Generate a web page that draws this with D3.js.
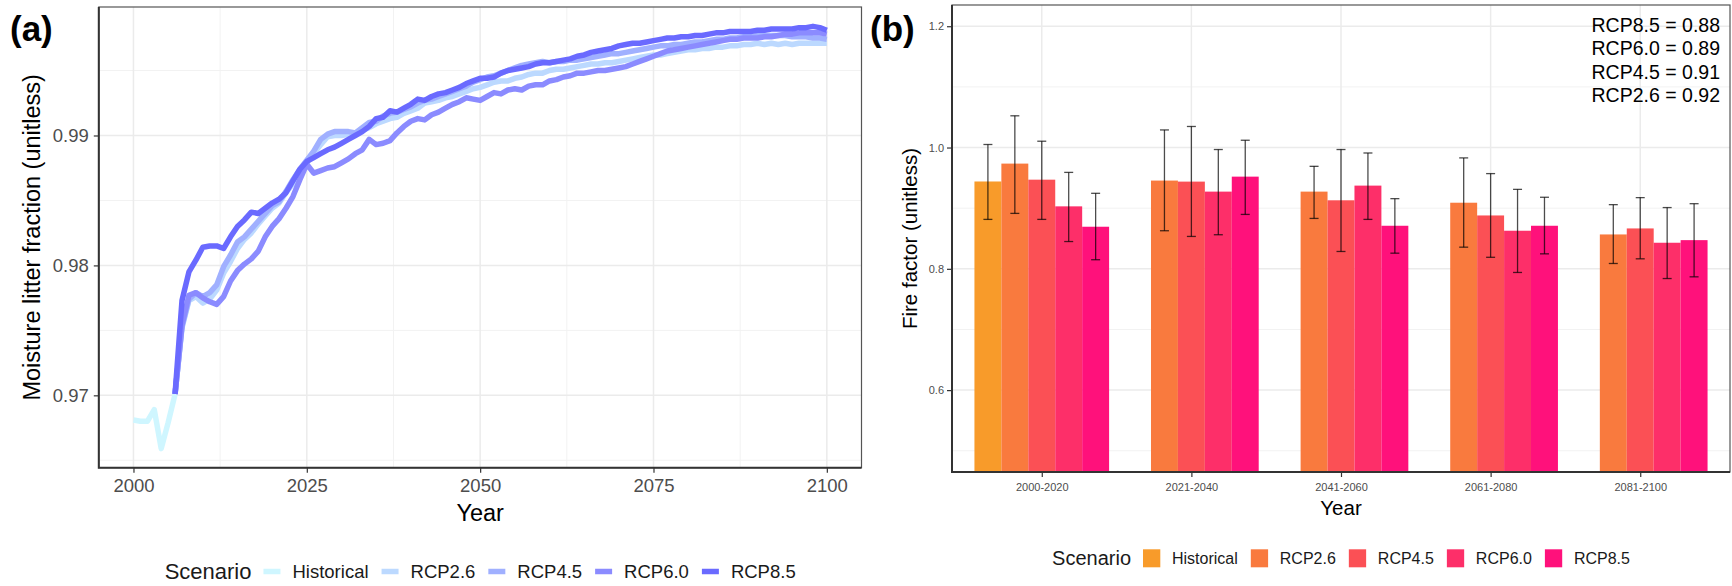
<!DOCTYPE html>
<html>
<head>
<meta charset="utf-8">
<script src="https://cdn.jsdelivr.net/npm/d3@7"></script>
<style>
  body { margin: 0; background: #fff; }
  svg { display: block; font-family: "Liberation Sans", Arial, sans-serif; }
</style>
</head>
<body>
<svg id="chart" width="1732" height="586"></svg>
<script>
// ---- data ----
const scenarios = ["Historical", "RCP2.6", "RCP4.5", "RCP6.0", "RCP8.5"];
const lineColors = ["#cff6ff", "#bcd9ff", "#a0b0ff", "#8b8bff", "#6a6aff"];
const barColors = ["#f89b2a", "#f97a3e", "#fb5055", "#fd2f69", "#ff117b"];

// panel (a): moisture litter fraction
const histYears = [2000, 2001, 2002, 2003, 2004, 2005, 2006];
const histLitter = [0.9681, 0.9680, 0.9680, 0.9689, 0.9659, 0.9679, 0.9701];
const futureYears = d3.range(2006, 2101);
const rcp26Litter = [
  .9701,.9752,.9773,.9776,.9771,.9774,.9781,.9794,.9803,.9813,
  .9820,.9825,.9832,.9838,.9844,.9848,.9856,.9863,.9871,.9879,
  .9886,.9893,.9899,.9900,.9900,.9901,.9901,.9904,.9906,.9909,
  .9911,.9913,.9914,.9917,.9919,.9921,.9925,.9926,.9927,.9929,
  .9930,.9932,.9934,.9936,.9937,.9939,.9941,.9942,.9942,.9944,
  .9945,.9947,.9948,.9948,.9950,.9951,.9951,.9952,.9953,.9954,
  .9955,.9955,.9956,.9956,.9957,.9958,.9959,.9960,.9961,.9962,
  .9962,.9963,.9964,.9965,.9966,.9966,.9967,.9967,.9968,.9968,
  .9969,.9969,.9970,.9970,.9971,.9970,.9971,.9970,.9971,.9970,
  .9971,.9971,.9971,.9971,.9971];
const rcp45Litter = [
  .9701,.9753,.9774,.9779,.9776,.9779,.9785,.9799,.9808,.9818,
  .9822,.9828,.9834,.9840,.9846,.9849,.9857,.9866,.9874,.9881,
  .9888,.9897,.9901,.9903,.9903,.9903,.9902,.9906,.9910,.9911,
  .9915,.9917,.9918,.9920,.9922,.9925,.9927,.9928,.9930,.9932,
  .9934,.9936,.9938,.9941,.9943,.9945,.9946,.9948,.9950,.9952,
  .9954,.9955,.9956,.9957,.9956,.9957,.9957,.9958,.9958,.9959,
  .9960,.9961,.9962,.9963,.9963,.9964,.9965,.9966,.9967,.9968,
  .9969,.9969,.9970,.9970,.9971,.9972,.9972,.9973,.9974,.9974,
  .9975,.9975,.9976,.9976,.9977,.9977,.9977,.9977,.9977,.9976,
  .9976,.9976,.9975,.9975,.9974];
const rcp60Litter = [
  .9701,.9754,.9777,.9779,.9775,.9772,.9770,.9776,.9788,.9796,
  .9801,.9805,.9811,.9822,.9830,.9836,.9844,.9853,.9866,.9878,
  .9871,.9873,.9875,.9876,.9879,.9882,.9886,.9889,.9897,.9893,
  .9894,.9896,.9902,.9907,.9911,.9913,.9912,.9916,.9918,.9921,
  .9924,.9926,.9929,.9928,.9927,.9930,.9933,.9932,.9935,.9936,
  .9935,.9938,.9939,.9939,.9942,.9943,.9945,.9946,.9948,.9948,
  .9949,.9950,.9950,.9951,.9952,.9953,.9955,.9957,.9959,.9961,
  .9963,.9965,.9966,.9967,.9968,.9969,.9970,.9971,.9972,.9973,
  .9974,.9974,.9975,.9975,.9975,.9976,.9976,.9977,.9978,.9978,
  .9979,.9979,.9979,.9979,.9978];
const rcp85Litter = [
  .9701,.9773,.9795,.9804,.9814,.9815,.9815,.9813,.9822,.9830,
  .9835,.9841,.9840,.9844,.9848,.9851,.9856,.9865,.9874,.9880,
  .9883,.9886,.9889,.9891,.9894,.9897,.9900,.9903,.9907,.9913,
  .9914,.9919,.9918,.9921,.9924,.9928,.9927,.9930,.9932,.9933,
  .9935,.9937,.9940,.9942,.9944,.9944,.9945,.9948,.9950,.9951,
  .9952,.9953,.9955,.9956,.9956,.9957,.9958,.9959,.9961,.9962,
  .9964,.9965,.9966,.9967,.9969,.9970,.9971,.9971,.9972,.9973,
  .9974,.9975,.9975,.9976,.9976,.9977,.9977,.9978,.9979,.9979,
  .9980,.9980,.9980,.9980,.9981,.9981,.9982,.9982,.9982,.9982,
  .9983,.9983,.9984,.9983,.9981];

// panel (b): fire factor by period
const periods = ["2000-2020", "2021-2040", "2041-2060", "2061-2080", "2081-2100"];
const histFire = [0.944];
const histFireLo = [0.8815];
const histFireHi = [1.005];
const rcp26Fire = [0.9735, 0.9455, 0.9273, 0.909, 0.8567];
const rcp26FireLo = [0.8914, 0.8628, 0.8831, 0.8357, 0.8088];
const rcp26FireHi = [1.0523, 1.029, 0.969, 0.9829, 0.9058];
const rcp45Fire = [0.947, 0.9438, 0.913, 0.888, 0.8666];
const rcp45FireLo = [0.8815, 0.8534, 0.8286, 0.819, 0.8165];
const rcp45FireHi = [1.0104, 1.0347, 0.9967, 0.957, 0.9174];
const rcp60Fire = [0.903, 0.9273, 0.9372, 0.8628, 0.843];
const rcp60FireLo = [0.845, 0.8562, 0.8815, 0.794, 0.784];
const rcp60FireHi = [0.959, 0.9967, 0.991, 0.931, 0.901];
const rcp85Fire = [0.8694, 0.952, 0.871, 0.871, 0.8473];
const rcp85FireLo = [0.815, 0.8897, 0.8258, 0.8247, 0.7868];
const rcp85FireHi = [0.9245, 1.012, 0.9157, 0.918, 0.9074];
const fireNotes = ["RCP8.5 = 0.88", "RCP6.0 = 0.89", "RCP4.5 = 0.91", "RCP2.6 = 0.92"];

// ---- drawing ----
const svg = d3.select("#chart");
svg.append("rect").attr("width", 1732).attr("height", 586).attr("fill", "#fff");

function drawGrid(g, box, xs, ys, major, minor)
{
    g.append("g").selectAll("line").data(minor.x).join("line")
        .attr("x1", d => xs(d)).attr("x2", d => xs(d))
        .attr("y1", box.top).attr("y2", box.bottom)
        .attr("stroke", "#f2f2f2").attr("stroke-width", 1);
    g.append("g").selectAll("line").data(minor.y).join("line")
        .attr("y1", d => ys(d)).attr("y2", d => ys(d))
        .attr("x1", box.left).attr("x2", box.right)
        .attr("stroke", "#f2f2f2").attr("stroke-width", 1);
    g.append("g").selectAll("line").data(major.x).join("line")
        .attr("x1", d => xs(d)).attr("x2", d => xs(d))
        .attr("y1", box.top).attr("y2", box.bottom)
        .attr("stroke", "#ebebeb").attr("stroke-width", 1.5);
    g.append("g").selectAll("line").data(major.y).join("line")
        .attr("y1", d => ys(d)).attr("y2", d => ys(d))
        .attr("x1", box.left).attr("x2", box.right)
        .attr("stroke", "#ebebeb").attr("stroke-width", 1.5);
}

function drawFrame(g, box)
{
    g.append("rect")
        .attr("x", box.left).attr("y", box.top)
        .attr("width", box.right - box.left).attr("height", box.bottom - box.top)
        .attr("fill", "none").attr("stroke", "#555").attr("stroke-width", 1.2);
    g.append("path")
        .attr("d", `M${box.left},${box.top}V${box.bottom}H${box.right}`)
        .attr("fill", "none").attr("stroke", "#333").attr("stroke-width", 2);
}

function styleAxis(axisG, size)
{
    axisG.select(".domain").remove();
    axisG.selectAll(".tick line").attr("stroke", "#333").attr("stroke-width", 1.2);
    axisG.selectAll(".tick text")
        .attr("fill", "#4d4d4d")
        .style("font-size", size + "px")
        .style("font-family", "'Liberation Sans', Arial, sans-serif");
}

// legend centred under a panel; keyFn draws one key at (x, cy)
function drawLegend(g, centerX, cy, titleSize, labelSize, colors, keyFn)
{
    const leg = g.append("g");
    const title = leg.append("text")
        .attr("y", cy).attr("dy", "0.35em")
        .style("font-size", titleSize + "px").attr("fill", "#1a1a1a")
        .text("Scenario");
    let x = title.node().getComputedTextLength() + 12;
    scenarios.forEach((name, i) => {
        keyFn(leg, x, cy, colors[i]);
        const t = leg.append("text")
            .attr("x", x + 29).attr("y", cy).attr("dy", "0.35em")
            .style("font-size", labelSize + "px").attr("fill", "#1a1a1a")
            .text(name);
        x += 29 + t.node().getComputedTextLength() + 13;
    });
    const width = x - 13;
    leg.attr("transform", `translate(${centerX - width / 2},0)`);
}

// ---------- panel (a) ----------
const boxA = {left: 98.8, right: 861.5, top: 7, bottom: 467.7};
const xA = d3.scaleLinear().domain([1995, 2105]).range([boxA.left, boxA.right]);
const yA = d3.scaleLinear().domain([0.96443, 0.99989]).range([boxA.bottom, boxA.top]);
const gA = svg.append("g");

drawGrid(gA, boxA, xA, yA,
    {x: [2000, 2025, 2050, 2075, 2100], y: [0.97, 0.98, 0.99]},
    {x: [2012.5, 2037.5, 2062.5, 2087.5], y: [0.965, 0.975, 0.985, 0.995]});

const litterSeries = [
    {name: "Historical", years: histYears, values: histLitter},
    {name: "RCP2.6", years: futureYears, values: rcp26Litter},
    {name: "RCP4.5", years: futureYears, values: rcp45Litter},
    {name: "RCP6.0", years: futureYears, values: rcp60Litter},
    {name: "RCP8.5", years: futureYears, values: rcp85Litter},
];

const line = d3.line()
    .x(d => xA(d[0]))
    .y(d => yA(d[1]));

gA.append("g")
    .attr("fill", "none")
    .attr("stroke-width", 5.5)
    .attr("stroke-linejoin", "round")
    .selectAll("path")
    .data(litterSeries)
    .join("path")
    .attr("stroke", d => lineColors[scenarios.indexOf(d.name)])
    .attr("d", d => line(d3.zip(d.years, d.values)));

drawFrame(gA, boxA);

const axA = gA.append("g")
    .attr("transform", `translate(0,${boxA.bottom})`)
    .call(d3.axisBottom(xA).tickValues([2000, 2025, 2050, 2075, 2100])
        .tickFormat(d3.format("d")).tickSize(5).tickPadding(6));
styleAxis(axA, 18.5);

const ayA = gA.append("g")
    .attr("transform", `translate(${boxA.left},0)`)
    .call(d3.axisLeft(yA).tickValues([0.97, 0.98, 0.99])
        .tickFormat(d3.format(".2f")).tickSize(5).tickPadding(5));
styleAxis(ayA, 18.5);

gA.append("text")
    .attr("x", (boxA.left + boxA.right) / 2).attr("y", 521)
    .attr("text-anchor", "middle")
    .style("font-size", "23.5px")
    .text("Year");

gA.append("text")
    .attr("transform", `translate(40,${(boxA.top + boxA.bottom) / 2}) rotate(-90)`)
    .attr("text-anchor", "middle")
    .style("font-size", "23.5px")
    .text("Moisture litter fraction (unitless)");

gA.append("text")
    .attr("x", 10).attr("y", 41)
    .style("font-size", "35px").style("font-weight", "bold")
    .text("(a)");

drawLegend(gA, (boxA.left + boxA.right) / 2, 571.5, 22, 18.5, lineColors,
    (leg, x, cy, color) => leg.append("line")
        .attr("x1", x).attr("x2", x + 17).attr("y1", cy).attr("y2", cy)
        .attr("stroke", color).attr("stroke-width", 5.5));

// ---------- panel (b) ----------
const boxB = {left: 952, right: 1730, top: 5, bottom: 472};
const xB = d3.scalePoint().domain(periods).range([boxB.left, boxB.right]).padding(0.6);
const yB = d3.scaleLinear().domain([0.465, 1.235]).range([boxB.bottom, boxB.top]);
const slot = d3.scaleBand().domain(scenarios)
    .range([-0.45 * xB.step(), 0.45 * xB.step()]);
const gB = svg.append("g");

drawGrid(gB, boxB, xB, yB,
    {x: periods, y: [0.6, 0.8, 1.0, 1.2]},
    {x: [], y: [0.5, 0.7, 0.9, 1.1]});

const fireSeries = [
    {name: "Historical", mean: histFire, lo: histFireLo, hi: histFireHi},
    {name: "RCP2.6", mean: rcp26Fire, lo: rcp26FireLo, hi: rcp26FireHi},
    {name: "RCP4.5", mean: rcp45Fire, lo: rcp45FireLo, hi: rcp45FireHi},
    {name: "RCP6.0", mean: rcp60Fire, lo: rcp60FireLo, hi: rcp60FireHi},
    {name: "RCP8.5", mean: rcp85Fire, lo: rcp85FireLo, hi: rcp85FireHi},
];
const fireRows = fireSeries.flatMap(s => s.mean.map((v, i) => ({
    name: s.name, period: periods[i], mean: v, lo: s.lo[i], hi: s.hi[i]
})));

gB.append("g")
    .selectAll("rect")
    .data(fireRows)
    .join("rect")
    .attr("x", d => xB(d.period) + slot(d.name))
    .attr("width", slot.bandwidth())
    .attr("y", d => yB(d.mean))
    .attr("height", d => boxB.bottom - yB(d.mean))
    .attr("fill", d => barColors[scenarios.indexOf(d.name)]);

const errG = gB.append("g")
    .attr("stroke", "#000")
    .attr("stroke-opacity", 0.7)
    .attr("stroke-width", 1.3);
const capHalf = 4.5;
fireRows.forEach(d => {
    const cx = xB(d.period) + slot(d.name) + slot.bandwidth() / 2;
    errG.append("line").attr("x1", cx).attr("x2", cx)
        .attr("y1", yB(d.lo)).attr("y2", yB(d.hi));
    errG.append("line").attr("x1", cx - capHalf).attr("x2", cx + capHalf)
        .attr("y1", yB(d.lo)).attr("y2", yB(d.lo));
    errG.append("line").attr("x1", cx - capHalf).attr("x2", cx + capHalf)
        .attr("y1", yB(d.hi)).attr("y2", yB(d.hi));
});

drawFrame(gB, boxB);

const axB = gB.append("g")
    .attr("transform", `translate(0,${boxB.bottom})`)
    .call(d3.axisBottom(xB).tickSize(5).tickPadding(6));
styleAxis(axB, 11);

const ayB = gB.append("g")
    .attr("transform", `translate(${boxB.left},0)`)
    .call(d3.axisLeft(yB).tickValues([0.6, 0.8, 1.0, 1.2])
        .tickFormat(d3.format(".1f")).tickSize(5).tickPadding(3));
styleAxis(ayB, 11);

gB.append("text")
    .attr("x", (boxB.left + boxB.right) / 2).attr("y", 515)
    .attr("text-anchor", "middle")
    .style("font-size", "20.5px")
    .text("Year");

gB.append("text")
    .attr("transform", `translate(917,${(boxB.top + boxB.bottom) / 2}) rotate(-90)`)
    .attr("text-anchor", "middle")
    .style("font-size", "20.5px")
    .text("Fire factor (unitless)");

gB.append("text")
    .attr("x", 870).attr("y", 41)
    .style("font-size", "35px").style("font-weight", "bold")
    .text("(b)");

gB.append("g")
    .selectAll("text")
    .data(fireNotes)
    .join("text")
    .attr("x", 1720)
    .attr("y", (d, i) => 32 + i * 23.4)
    .attr("text-anchor", "end")
    .style("font-size", "19.5px")
    .text(d => d);

drawLegend(gB, (boxB.left + boxB.right) / 2, 558.3, 20, 16, barColors,
    (leg, x, cy, color) => leg.append("rect")
        .attr("x", x).attr("y", cy - 9).attr("width", 17.3).attr("height", 18)
        .attr("fill", color));
</script>
</body>
</html>
